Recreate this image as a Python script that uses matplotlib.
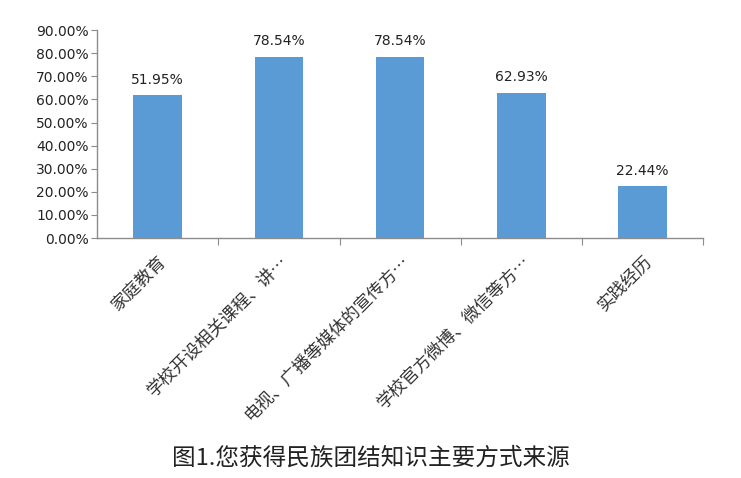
import matplotlib
matplotlib.use("Agg")
import matplotlib.pyplot as plt
from matplotlib.ticker import FuncFormatter, MultipleLocator

plt.rcParams['font.family'] = ['Noto Sans CJK SC', 'DejaVu Sans']

categories = ["家庭教育", "学校开设相关课程、讲…", "电视、广播等媒体的宣传方…",
              "学校官方微博、微信等方…", "实践经历"]
values = [61.95, 78.54, 78.54, 62.93, 22.44]
value_labels = ["51.95%", "78.54%", "78.54%", "62.93%", "22.44%"]
title = "图1.您获得民族团结知识主要方式来源"

bar_color = "#5B9BD5"
axis_color = "#8c8c8c"

fig = plt.figure(figsize=(7.41, 4.78), dpi=100)
ax = fig.add_axes([0.131, 0.502, 0.818, 0.435])

x = list(range(len(categories)))
ax.bar(x, values, width=0.4, color=bar_color, zorder=2)

for xi, v, lab in zip(x, values, value_labels):
    ax.text(xi, v + 3.6, lab, ha="center", va="bottom", fontsize=10,
            family=["DejaVu Sans"], color="#222222")

ax.set_xlim(-0.5, len(categories) - 0.5)
ax.set_ylim(0, 90)
ax.yaxis.set_major_locator(MultipleLocator(10))
ax.yaxis.set_major_formatter(FuncFormatter(lambda v, p: f"{v:.2f}%"))
for lab in ax.get_yticklabels():
    lab.set_family(["DejaVu Sans"])
ax.tick_params(axis="y", labelsize=10, length=4, color=axis_color, labelcolor="#222222", pad=2)

# x ticks at category boundaries
ax.set_xticks([i + 0.5 for i in x], minor=False)
ax.set_xticklabels([])
ax.tick_params(axis="x", length=5, color=axis_color, direction="out")
ax.set_xticks(x, minor=True)
ax.set_xticklabels(categories, minor=True, rotation=45, ha="right", va="top",
                   rotation_mode="anchor", fontsize=12.5, color="#333333")
ax.tick_params(axis="x", which="minor", length=0, pad=10)

for s in ["top", "right"]:
    ax.spines[s].set_visible(False)
for s in ["left", "bottom"]:
    ax.spines[s].set_color(axis_color)
    ax.spines[s].set_linewidth(1.0)

fig.text(0.5, 0.042, title, ha="center", va="center", fontsize=17, color="#222222")

fig.savefig("out.png", dpi=100)
